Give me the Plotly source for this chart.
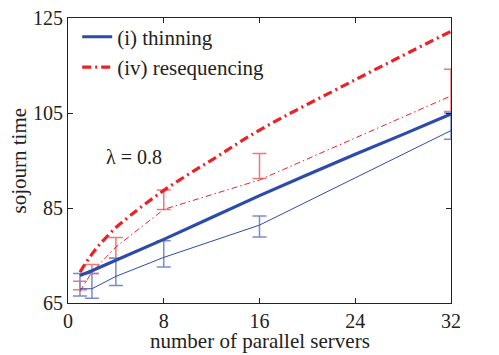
import plotly.graph_objects as go

# thick curves
thick_blue_x = [1, 2, 4, 8, 12, 16, 20, 22, 24, 28, 32]
thick_blue_y = [70.8, 71.8, 74.0, 78.4, 83.0, 87.6, 92.0, 94.2, 96.3, 100.5, 104.8]
thick_red_x = [1, 1.5, 2, 2.5, 3, 4, 5, 6, 8, 10, 12, 16, 24, 32]
thick_red_y = [71.5, 73.5, 75.3, 76.9, 78.3, 80.9, 83.0, 85.0, 88.7, 92.0, 95.1, 101.4, 112.0, 122.2]

# thin curves
thin_x = [1, 2, 4, 8, 16, 32]
thin_blue_y = [68.0, 68.0, 70.6, 74.6, 81.4, 101.3]
thin_red_y = [67.5, 71.5, 76.8, 84.7, 90.9, 108.6]

# simulation intervals
sim_x = [1, 2, 4, 8, 16, 32]
blue_lo = [66.5, 66.0, 68.7, 72.6, 78.9, 99.5]
blue_hi = [71.2, 71.2, 74.4, 78.1, 83.3, 105.0]
red_lo = [67.8, 71.2, 74.4, 84.7, 91.2, 105.3]
red_hi = [69.6, 73.1, 78.8, 88.8, 96.5, 114.2]

x_ticks = [0, 8, 16, 24, 32]
y_ticks = [65, 85, 105, 125]

BLUE = "rgb(45,75,170)"
RED = "rgb(238,32,36)"
LBLUE = "rgb(120,140,205)"
LRED = "rgb(242,120,120)"
FONT = "Times"
TXT = "#222"

fig = go.Figure()

def bars(lo, hi, color):
    mid = [(a + b) / 2 for a, b in zip(lo, hi)]
    half = [(b - a) / 2 for a, b in zip(lo, hi)]
    return go.Scatter(x=sim_x, y=mid, mode="markers", marker=dict(size=0.1, color=color, opacity=0),
                      error_y=dict(type="data", array=half, symmetric=True, color=color,
                                   thickness=1.5, width=7),
                      showlegend=False, hoverinfo="skip")

fig.add_trace(bars(red_lo, red_hi, LRED))
fig.add_trace(bars(blue_lo, blue_hi, LBLUE))

fig.add_trace(go.Scatter(x=thin_x, y=thin_blue_y, mode="lines", line=dict(color=BLUE, width=1),
                         showlegend=False))
fig.add_trace(go.Scatter(x=thin_x, y=thin_red_y, mode="lines",
                         line=dict(color=RED, width=1, dash="6px,3px,1.5px,3px"), showlegend=False))
fig.add_trace(go.Scatter(x=thick_blue_x, y=thick_blue_y, mode="lines",
                         line=dict(color=BLUE, width=3.2), name="(i) thinning"))
fig.add_trace(go.Scatter(x=thick_red_x, y=thick_red_y, mode="lines", line_shape="spline",
                         line=dict(color=RED, width=3.2, dash="9px,4px,2px,4px"),
                         name="(iv) resequencing"))

axis_common = dict(showline=True, linecolor=TXT, linewidth=1, mirror="ticks", ticks="inside",
                   ticklen=5, tickcolor=TXT, showgrid=False, zeroline=False, automargin=False,
                   tickfont=dict(family=FONT, size=20, color=TXT))

fig.update_layout(
    width=499, height=355,
    margin=dict(l=68, r=48, t=18, b=52),
    paper_bgcolor="white", plot_bgcolor="white",
    font=dict(family=FONT, size=20, color=TXT),
    xaxis=dict(range=[0, 32], tickvals=x_ticks, **axis_common),
    yaxis=dict(range=[65, 125], tickvals=y_ticks, **axis_common),
    legend=dict(x=0.024, y=1.005, xanchor="left", yanchor="top", bgcolor="rgba(0,0,0,0)",
                font=dict(family=FONT, size=21, color=TXT), tracegroupgap=0),
    annotations=[
        dict(x=5.5, y=95.7, xref="x", yref="y", text="λ = 0.8", showarrow=False,
             font=dict(family=FONT, size=20, color=TXT)),
        dict(x=0.5, y=-0.135, xref="paper", yref="paper", text="number of parallel servers",
             showarrow=False, xanchor="center", yanchor="middle",
             font=dict(family=FONT, size=21, color=TXT)),
        dict(x=-0.128, y=0.5, xref="paper", yref="paper", text="sojourn time", textangle=-90,
             showarrow=False, xanchor="center", yanchor="middle",
             font=dict(family=FONT, size=21, color=TXT)),
    ],
)

fig.write_html("out.html", config={"displayModeBar": False},
               post_script="document.body.style.margin='0';document.body.style.overflow='hidden';")
